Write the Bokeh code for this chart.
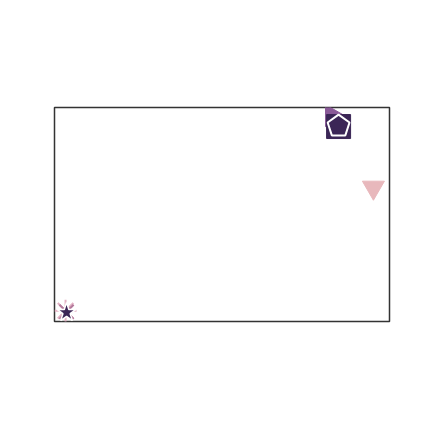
from bokeh.plotting import figure
from bokeh.models import Range1d
from bokeh.embed import file_html
from bokeh.resources import INLINE

markers = ["asterisk", "x", "star", "triangle", "square", "inverted_triangle"]
xs = [0.33, 0.36, 0.36, 8.28, 8.48, 9.52]
ys = [0.50, 0.45, 0.42, 9.62, 9.11, 6.26]
sizes = [22, 20, 20, 22, 24, 22]
angles = [0, 0, 0, -1.5708, 0, 0]
fills = ["#ecc6d4", "#c48aa8", "#3b2656", "#8a5a98", "#3b2656", "#e8b8bc"]
lines = ["#e3b2c4", "#b47a9c", "#ffffff", "#8a5a98", "#3b2656", "#e8b8bc"]
widths = [2, 2, 1.5, 1, 1, 1]

pent_x = [8.48]
pent_y = [9.13]
pent_r = [11.5]

p = figure(width=432, height=432, output_backend="svg", toolbar_location=None,
           x_range=Range1d(0, 10), y_range=Range1d(0, 10),
           min_border_left=54, min_border_right=43, min_border_top=107, min_border_bottom=111)
p.axis.visible = False
p.grid.visible = False
p.outline_line_color = "#333333"
p.outline_line_width = 1.5
for i in range(len(markers)):
    p.scatter(x=[xs[i]], y=[ys[i]], marker=markers[i], size=sizes[i], angle=angles[i],
              fill_color=fills[i], line_color=lines[i], line_width=widths[i])
p.ngon(x=pent_x, y=pent_y, radius=pent_r, radius_units="screen", n=5, angle=0,
       fill_color="#3b2656", line_color="#ffffff", line_width=2)

open("out.html", "w").write(file_html(p, INLINE))
